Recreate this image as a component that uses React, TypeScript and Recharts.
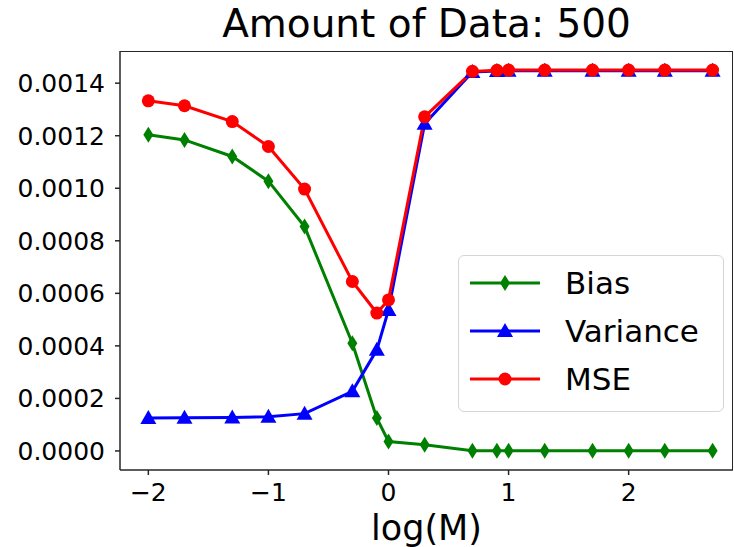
import { LineChart, Line, XAxis, YAxis } from 'recharts';

const logM = [-2, -1.699, -1.301, -1, -0.699, -0.301, -0.097, 0, 0.301, 0.699, 0.903, 1, 1.301, 1.699, 2, 2.301, 2.699];
const bias = [0.001204, 0.001184, 0.001121, 0.001027, 0.000854, 0.00041, 0.000125, 0.000036, 0.000024, 0.000001, 0.000001, 0.000001, 0.000001, 0.000001, 0.000001, 0.000001, 0.000001];
const variance = [0.000125, 0.000126, 0.000127, 0.00013, 0.000142, 0.000227, 0.000385, 0.000537, 0.001246, 0.001443, 0.001446, 0.001447, 0.001447, 0.001447, 0.001447, 0.001447, 0.001447];
const mse = [0.001333, 0.001314, 0.001254, 0.001159, 0.000997, 0.000645, 0.000525, 0.000575, 0.001272, 0.001445, 0.001449, 0.00145, 0.00145, 0.00145, 0.00145, 0.00145, 0.00145];

const xTicks = [-2, -1, 0, 1, 2];
const yTicks = [0, 0.0002, 0.0004, 0.0006, 0.0008, 0.001, 0.0012, 0.0014];

const data = logM.map((x, i) => ({ x, bias: bias[i], variance: variance[i], mse: mse[i] }));

const FONT = '"DejaVu Sans", sans-serif';
const SPINE = '#262626';

const Diamond = ({ cx, cy, color }: any) =>
  cx == null ? null : <path d={`M${cx},${cy - 8} L${cx + 5},${cy} L${cx},${cy + 8} L${cx - 5},${cy} Z`} fill={color} />;
const Triangle = ({ cx, cy, color }: any) =>
  cx == null ? null : <path d={`M${cx},${cy - 8} L${cx + 8},${cy + 6} L${cx - 8},${cy + 6} Z`} fill={color} />;
const Circle = ({ cx, cy, color }: any) => (cx == null ? null : <circle cx={cx} cy={cy} r={6.5} fill={color} />);

const series = [
  { key: 'bias', name: 'Bias', color: '#008000', Marker: Diamond },
  { key: 'variance', name: 'Variance', color: '#0000ff', Marker: Triangle },
  { key: 'mse', name: 'MSE', color: '#ff0000', Marker: Circle },
];

function LegendBox() {
  return (
    <div
      style={{
        position: 'absolute',
        left: 458,
        top: 255,
        width: 266,
        height: 157,
        border: '1.5px solid #d5d5d5',
        borderRadius: 6,
        background: 'rgba(255,255,255,0.8)',
        boxSizing: 'border-box',
        fontFamily: FONT,
        fontSize: 31,
        color: '#000',
      }}
    >
      {series.map((s, i) => (
        <div key={s.key} style={{ position: 'absolute', left: 11, top: 9 + i * 48, height: 36, display: 'flex', alignItems: 'center' }}>
          <svg width={70} height={36}>
            <line x1={0} y1={18} x2={70} y2={18} stroke={s.color} strokeWidth={3} />
            <s.Marker cx={35} cy={18} color={s.color} />
          </svg>
          <span style={{ marginLeft: 25, lineHeight: '36px' }}>{s.name}</span>
        </div>
      ))}
    </div>
  );
}

export default function App() {
  return (
    <div style={{ position: 'absolute', left: 0, top: 0, width: 734, height: 547, background: '#fff', overflow: 'hidden' }}>
      <div
        style={{
          position: 'absolute',
          left: 120,
          width: 613,
          top: 1,
          textAlign: 'center',
          fontFamily: FONT,
          fontSize: 39,
          lineHeight: '46px',
          color: '#000',
        }}
      >
        Amount of Data: 500
      </div>
      <LineChart width={734} height={547} data={data} margin={{ top: 51, right: 1, bottom: 0, left: 0 }}>
        <XAxis
          dataKey="x"
          type="number"
          domain={[-2.236, 2.869]}
          ticks={xTicks}
          allowDataOverflow
          tickFormatter={(v: number) => String(v).replace('-', '\u2212')}
          tick={{ fill: '#000', fontSize: 25, fontFamily: FONT }}
          tickSize={5}
          tickMargin={8}
          axisLine={{ stroke: SPINE, strokeWidth: 1.5 }}
          tickLine={{ stroke: SPINE, strokeWidth: 1.5 }}
          height={77}
          label={{ value: 'log(M)', position: 'insideBottom', offset: 7, fill: '#000', fontSize: 35, fontFamily: FONT }}
        />
        <YAxis
          type="number"
          domain={[-0.0000725, 0.0015225]}
          ticks={yTicks}
          allowDataOverflow
          tickFormatter={(v: number) => v.toFixed(4)}
          tick={{ fill: '#000', fontSize: 25, fontFamily: FONT }}
          tickSize={5}
          tickMargin={10}
          axisLine={{ stroke: SPINE, strokeWidth: 1.5 }}
          tickLine={{ stroke: SPINE, strokeWidth: 1.5 }}
          width={120}
        />
        {series.map((s) => (
          <Line
            key={s.key}
            dataKey={s.key}
            name={s.name}
            stroke={s.color}
            strokeWidth={3}
            isAnimationActive={false}
            dot={(p: any) => <s.Marker key={`${s.key}-${p.index}`} cx={p.cx} cy={p.cy} color={s.color} />}
            activeDot={false}
          />
        ))}
      </LineChart>
      <div
        style={{
          position: 'absolute',
          left: 120,
          top: 51,
          width: 613,
          height: 419,
          borderTop: `1.5px solid ${SPINE}`,
          borderRight: `1.5px solid ${SPINE}`,
          boxSizing: 'border-box',
          pointerEvents: 'none',
        }}
      />
      <LegendBox />
    </div>
  );
}
